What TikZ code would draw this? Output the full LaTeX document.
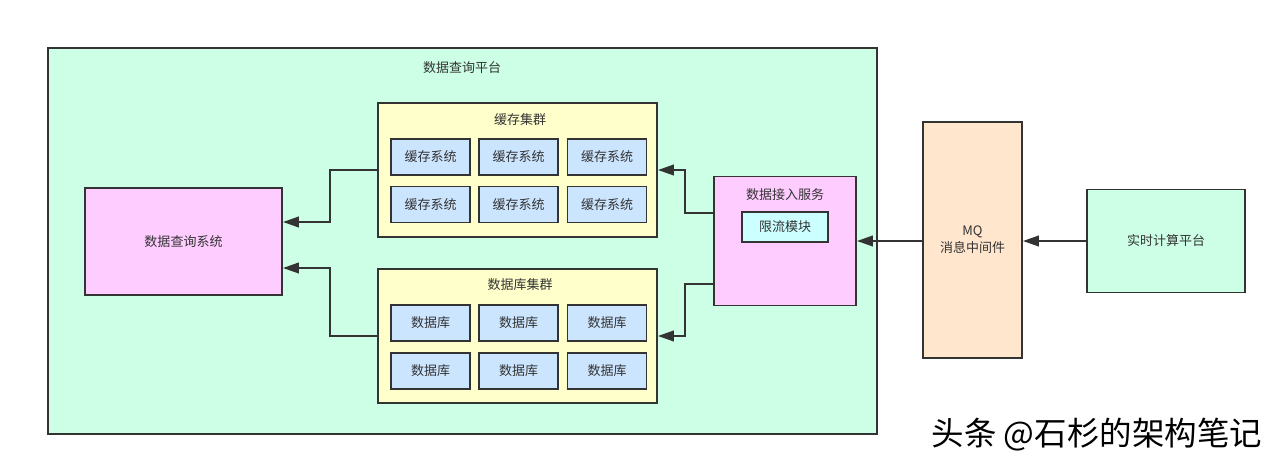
\documentclass[tikz,border=0pt]{standalone}
\usepackage{fontspec}
\setmainfont{Noto Sans CJK SC}
\newfontfamily\markfont{Noto Sans CJK SC}
\usetikzlibrary{arrows.meta}

\definecolor{inkgray}{HTML}{333333}
\definecolor{mintfill}{HTML}{CCFFE6}
\definecolor{creamfill}{HTML}{FFFFCC}
\definecolor{bluefill}{HTML}{CCE5FF}
\definecolor{pinkfill}{HTML}{FFCCFF}
\definecolor{cyanfill}{HTML}{CCFFFF}
\definecolor{peachfill}{HTML}{FFE6CC}

\begin{document}
\begin{tikzpicture}[x=0.02cm,y=-0.02cm,
  every node/.style={font=\fontsize{7.4}{9.5}\selectfont, text=inkgray},
  box/.style={draw=inkgray, line width=1.1pt, inner sep=0pt, align=center},
  conn/.style={draw=inkgray, line width=1.1pt, -{Triangle[length=9pt,width=6pt]}}]

%% page size
\useasboundingbox[fill=white] (0,0) rectangle (1277,466);

% DATA QUERY PLATFORM
\node[box, fill=mintfill, minimum width=16.58cm, minimum height=7.72cm] (platform) at (462.5,241) {};
\node (platformtitle) at (462,68) {数据查询平台};

% QUERY SYSTEM
\node[box, fill=pinkfill, minimum width=3.94cm, minimum height=2.14cm] (query) at (183.5,241.5) {数据查询系统};

% CACHE CLUSTER
\node[box, fill=creamfill, minimum width=5.58cm, minimum height=2.68cm] (cache) at (517.5,170) {};
\node (cachetitle) at (520,120) {缓存集群};
\node[box, fill=bluefill, minimum width=1.58cm, minimum height=0.72cm] (cacheA) at (430.5,157) {缓存系统};
\node[box, fill=bluefill, minimum width=1.58cm, minimum height=0.72cm] (cacheB) at (518.5,157) {缓存系统};
\node[box, fill=bluefill, minimum width=1.58cm, minimum height=0.72cm] (cacheC) at (607,157) {缓存系统};
\node[box, fill=bluefill, minimum width=1.58cm, minimum height=0.72cm] (cacheD) at (430.5,204.5) {缓存系统};
\node[box, fill=bluefill, minimum width=1.58cm, minimum height=0.72cm] (cacheE) at (518.5,204.5) {缓存系统};
\node[box, fill=bluefill, minimum width=1.58cm, minimum height=0.72cm] (cacheF) at (607,204.5) {缓存系统};

% DATABASE CLUSTER
\node[box, fill=creamfill, minimum width=5.58cm, minimum height=2.68cm] (db) at (517.5,336) {};
\node (dbtitle) at (520,285) {数据库集群};
\node[box, fill=bluefill, minimum width=1.58cm, minimum height=0.72cm] (dbA) at (430.5,323) {数据库};
\node[box, fill=bluefill, minimum width=1.58cm, minimum height=0.72cm] (dbB) at (518.5,323) {数据库};
\node[box, fill=bluefill, minimum width=1.58cm, minimum height=0.72cm] (dbC) at (607,323) {数据库};
\node[box, fill=bluefill, minimum width=1.58cm, minimum height=0.72cm] (dbD) at (430.5,371) {数据库};
\node[box, fill=bluefill, minimum width=1.58cm, minimum height=0.72cm] (dbE) at (518.5,371) {数据库};
\node[box, fill=bluefill, minimum width=1.58cm, minimum height=0.72cm] (dbF) at (607,371) {数据库};

% DATA ACCESS SERVICE
\node[box, fill=pinkfill, minimum width=2.84cm, minimum height=2.58cm] (access) at (785,241) {};
\node (accesstitle) at (785,195) {数据接入服务};
\node[box, fill=cyanfill, minimum width=1.72cm, minimum height=0.6cm] (limiter) at (785,227) {限流模块};

% MQ
\node[box, fill=peachfill, minimum width=1.98cm, minimum height=4.72cm] (mq) at (972.5,240) {MQ\\消息中间件};

% REALTIME PLATFORM
\node[box, fill=mintfill, minimum width=3.16cm, minimum height=2.06cm] (realtime) at (1166,241) {实时计算平台};

% CONNECTORS
\draw[conn] (realtime.west) -- (mq.east |- realtime.west);
\draw[conn] (mq.west |- access.east) -- (access.east);
\draw[conn] ([yshift=0.56cm]access.west) -- ++(-28,0) |- (cache.east);
\draw[conn] ([yshift=-0.86cm]access.west) -- ++(-28,0) |- (db.east);
\draw[conn] (cache.west) -- ++(-47,0) |- ([yshift=0.39cm]query.east);
\draw[conn] (db.west) -- ++(-47,0) |- ([yshift=-0.53cm]query.east);

% WATERMARK
\node[font=\markfont\fontsize{18.5}{22}\selectfont, text=black] (mark) at (1097,435) {头条 @石杉的架构笔记};
\end{tikzpicture}
\end{document}
